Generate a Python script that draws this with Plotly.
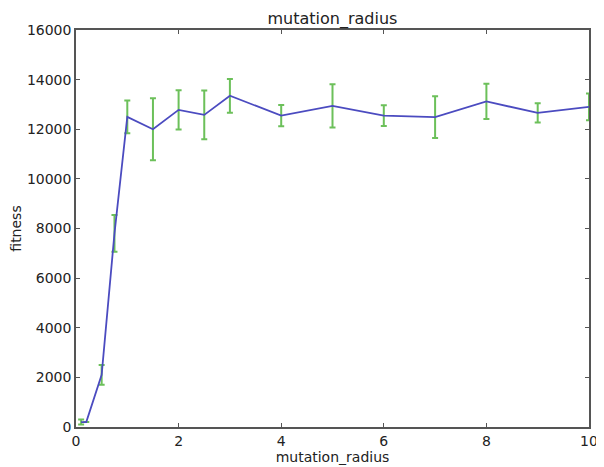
import plotly.graph_objects as go

x_vals = [0.1, 0.2, 0.5, 0.75, 1.0, 1.5, 2.0, 2.5, 3.0, 4.0, 5.0, 6.0, 7.0, 8.0, 9.0, 10.0]
fitness = [200, 200, 2100, 7800, 12500, 12000, 12780, 12580, 13350, 12550, 12940, 12550, 12490, 13120, 12660, 12900]
errors = [100, 0, 400, 740, 660, 1250, 790, 980, 680, 430, 870, 420, 840, 710, 390, 540]

x_ticks = [0, 2, 4, 6, 8, 10]
x_tick_labels = ["0", "2", "4", "6", "8", "10"]
y_ticks = [0, 2000, 4000, 6000, 8000, 10000, 12000, 14000, 16000]
y_tick_labels = ["0", "2000", "4000", "6000", "8000", "10000", "12000", "14000", "16000"]

W, H = 596, 459  # page body has an 8px margin
fig = go.Figure()
fig.add_trace(go.Scatter(
    x=x_vals, y=fitness, mode="lines",
    line=dict(color="#4b4bc0", width=1.8),
    error_y=dict(type="data", array=errors, visible=True,
                 color="#6cc05a", thickness=2, width=3),
    showlegend=False,
))

axis_common = dict(
    showline=True, mirror="ticks", linecolor="#555555", linewidth=1.5,
    ticks="inside", ticklen=4, tickcolor="#555555",
    showgrid=False, zeroline=False, automargin=False,
    tickfont=dict(family="DejaVu Sans", size=14, color="#222222"),
)

fig.update_layout(
    width=W, height=H,
    margin=dict(l=68, r=15, t=22, b=40),
    paper_bgcolor="white", plot_bgcolor="white",
    title=dict(text="mutation_radius", x=(332.5 - 8) / W, xanchor="center",
               xref="container",
               yref="container", y=1 - 10 / H, yanchor="middle",
               font=dict(family="DejaVu Sans", size=16, color="#222222")),
    xaxis=dict(range=[0, 10], tickvals=x_ticks, ticktext=x_tick_labels,
               title=dict(text="mutation_radius", standoff=0,
                          font=dict(family="DejaVu Sans", size=14, color="#222222")),
               **axis_common),
    yaxis=dict(range=[0, 16000], tickvals=y_ticks, ticktext=y_tick_labels,
               title=dict(text="fitness", standoff=4,
                          font=dict(family="DejaVu Sans", size=14, color="#222222")),
               **axis_common),
)

fig.write_html("out.html")
